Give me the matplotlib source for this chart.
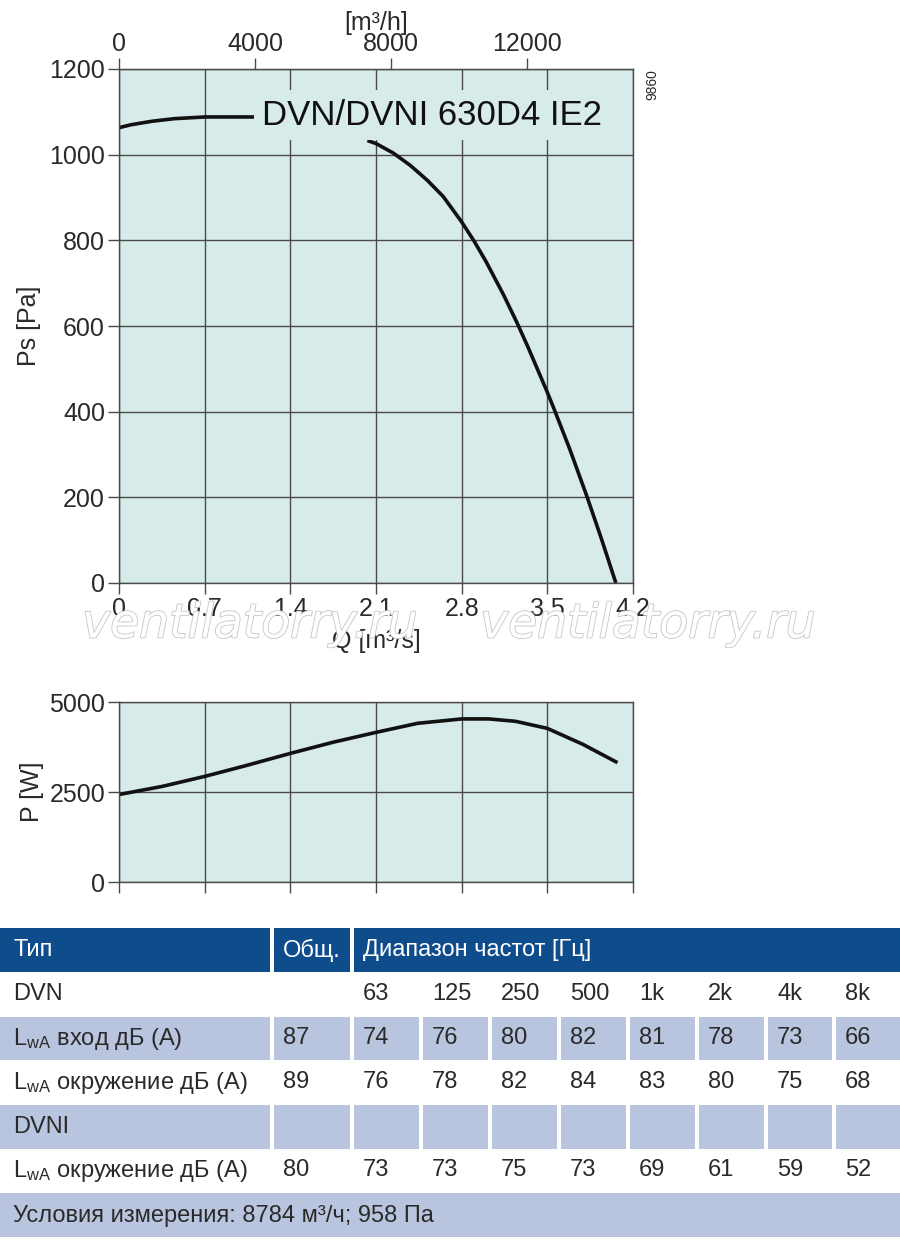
import matplotlib
matplotlib.use("Agg")
import matplotlib.pyplot as plt
import matplotlib.patheffects as pe
from matplotlib.patches import Rectangle

plt.rcParams['font.family'] = ['Liberation Sans', 'DejaVu Sans']
plt.rcParams['mathtext.fontset'] = 'custom'
plt.rcParams['mathtext.rm'] = 'Liberation Sans'
plt.rcParams['mathtext.it'] = 'Liberation Sans:italic'

# pressure curve (split around the model name)
ps_q_left = [0, 0.1, 0.27, 0.45, 0.7, 0.91, 1.16]
ps_left = [1063, 1070, 1078, 1084, 1088, 1088, 1088]
ps_q_right = [2.03, 2.1, 2.24, 2.38, 2.52, 2.65, 2.8, 2.9, 3.0, 3.14, 3.25, 3.34,
              3.49, 3.55, 3.68, 3.82, 3.94, 4.06]
ps_right = [1033, 1026, 1004, 975, 940, 902, 843, 799, 750, 674, 609, 552,
            452, 410, 315, 205, 105, 0]

# power curve
p_q = [0, 0.35, 0.7, 1.04, 1.4, 1.75, 2.1, 2.44, 2.8, 3.02, 3.24, 3.5, 3.79, 4.06]
p_w = [2430, 2653, 2933, 3236, 3572, 3883, 4156, 4408, 4530, 4530, 4464, 4267, 3825, 3339]

q_ticks = [0, 0.7, 1.4, 2.1, 2.8, 3.5, 4.2]
q_tick_labels = ['0', '0.7', '1.4', '2.1', '2.8', '3.5', '4.2']
qh_ticks = [0, 4000, 8000, 12000]
ps_ticks = [0, 200, 400, 600, 800, 1000, 1200]
p_ticks = [0, 2500, 5000]

# sound table
freqs = ['63', '125', '250', '500', '1k', '2k', '4k', '8k']
lwa_inlet = [74, 76, 80, 82, 81, 78, 73, 66]
lwa_env = [76, 78, 82, 84, 83, 80, 75, 68]
dvni_env = [73, 73, 75, 73, 69, 61, 59, 52]
totals = [87, 89, 80]

W, H = 900, 1244
BG = '#d7ecea'
GRID = '#4a4a4a'
TXT = '#2a2a2a'

fig = plt.figure(figsize=(W / 100, H / 100), dpi=100)


def px_axes(x0, y0, x1, y1):
    return fig.add_axes([x0 / W, 1 - y1 / H, (x1 - x0) / W, (y1 - y0) / H])


def style_axes(ax):
    ax.set_facecolor(BG)
    ax.set_axisbelow(True)
    ax.grid(True, color=GRID, linewidth=1.0)
    for s in ax.spines.values():
        s.set_color(GRID)
        s.set_linewidth(1.0)
    ax.tick_params(direction='out', length=8, width=1.0, color=GRID,
                   labelsize=18, labelcolor=TXT, pad=2)


# --- Ps chart ---
ax = px_axes(119, 69, 633, 583)
style_axes(ax)
ax.set_xlim(0, 4.2)
ax.set_ylim(0, 1200)
ax.set_xticks(q_ticks)
ax.set_xticklabels(q_tick_labels)
ax.set_yticks(ps_ticks)
ax.plot(ps_q_left, ps_left, color='#111111', lw=2.6, solid_capstyle='butt')
ax.plot(ps_q_right, ps_right, color='#111111', lw=2.6, solid_capstyle='butt')
ax.text(1.17, 1092, 'DVN/DVNI 630D4 IE2', fontsize=25, color='#111111',
        va='center', ha='left', zorder=5,
        bbox=dict(facecolor=BG, edgecolor='none', pad=6))
ax.set_ylabel('Ps [Pa]', fontsize=18, color=TXT, labelpad=6)
ax.set_xlabel('Q [m³/s]', fontsize=18, color=TXT, labelpad=6)

sec = ax.secondary_xaxis('top', functions=(lambda q: q * 3600, lambda h: h / 3600))
sec.set_xticks(qh_ticks)
sec.tick_params(direction='out', length=8, width=1.0, color=GRID,
                labelsize=18, labelcolor=TXT, pad=1)
sec.spines['top'].set_color(GRID)
sec.set_xlabel('[m³/h]', fontsize=18, color=TXT, labelpad=2)

fig.text(652 / W, 1 - 85 / H, '9860', rotation=90, fontsize=10, color=TXT,
         ha='center', va='center')

# --- Power chart ---
ax2 = px_axes(119, 702, 633, 882)
style_axes(ax2)
ax2.set_xlim(0, 4.2)
ax2.set_ylim(0, 5000)
ax2.set_xticks(q_ticks)
ax2.set_xticklabels([])
ax2.set_yticks(p_ticks)
ax2.plot(p_q, p_w, color='#111111', lw=2.6)
ax2.set_ylabel('P [W]', fontsize=18, color=TXT, labelpad=4)

# --- watermark ---
for cx in (250, 648):
    fig.text(cx / W, 1 - 625 / H, 'ventilatorry.ru', fontsize=34, style='italic',
             family='DejaVu Sans', color='white', ha='center', va='center', zorder=10,
             path_effects=[pe.Stroke(linewidth=1.2, foreground='#c6c6c6'), pe.Normal()])

# --- table ---
tab = fig.add_axes([0, 0, 1, 1], zorder=-1)
tab.set_xlim(0, W)
tab.set_ylim(H, 0)
tab.axis('off')

HEAD = '#0f4c8c'
ROWBG = '#b9c5df'
cols = [(0, 270), (274, 350), (354, 419), (423, 488), (492, 557), (561, 626),
        (630, 695), (699, 764), (768, 832), (836, 900)]


def cell(x0, x1, y0, y1, color):
    tab.add_patch(Rectangle((x0, y0), x1 - x0, y1 - y0, facecolor=color, edgecolor='none'))


def put(x, y, s, color=TXT, size=17):
    tab.text(x, y, s, fontsize=size, color=color, ha='left', va='center')


# header
for x0, x1 in [(0, 270), (274, 350), (354, 900)]:
    cell(x0, x1, 928, 972, HEAD)
put(13, 950, 'Тип', 'white')
put(283, 950, 'Общ.', 'white')
put(363, 950, 'Диапазон частот [Гц]', 'white')

rows = [(972, 1016), (1017, 1060), (1061, 1104), (1105, 1149), (1149, 1192)]
for i, (y0, y1) in enumerate(rows):
    if i % 2 == 1:
        for x0, x1 in cols:
            cell(x0, x1, y0, y1, ROWBG)

lwa = r'L$_{\rm wA}$'
row_labels = ['DVN', lwa + ' вход дБ (А)', lwa + ' окружение дБ (А)', 'DVNI',
              lwa + ' окружение дБ (А)']
row_vals = [freqs, lwa_inlet, lwa_env, None, dvni_env]
row_tot = [None, totals[0], totals[1], None, totals[2]]
for (y0, y1), lab, vals, tot in zip(rows, row_labels, row_vals, row_tot):
    yc = (y0 + y1) / 2
    put(13, yc, lab)
    if tot is not None:
        put(cols[1][0] + 9, yc, str(tot))
    if vals is not None:
        for (x0, x1), v in zip(cols[2:], vals):
            put(x0 + 9, yc, str(v))

cell(0, 900, 1193, 1237, ROWBG)
put(13, 1216, 'Условия измерения: 8784 м³/ч; 958 Па')

fig.savefig('out.png', dpi=100)
